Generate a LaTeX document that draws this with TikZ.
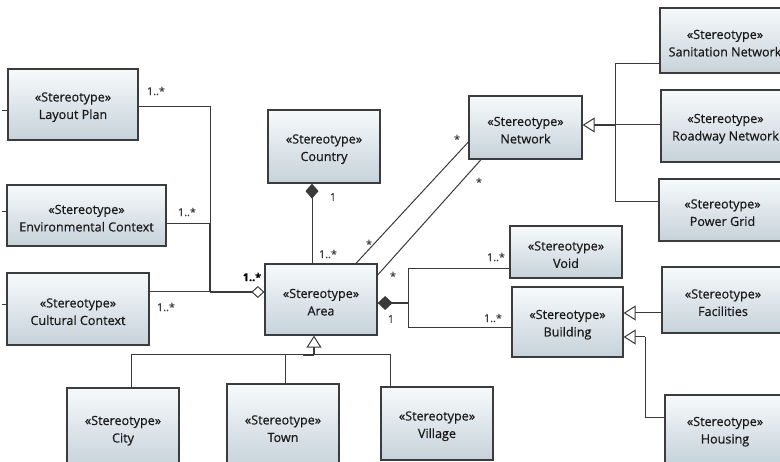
\documentclass[tikz,border=0pt]{standalone}
\usepackage{fontspec}
\setmainfont{Open Sans}
\usetikzlibrary{arrows.meta}
\definecolor{boxline}{HTML}{3C3C3C}
\definecolor{boxtop}{HTML}{F7FAFB}
\definecolor{boxbot}{HTML}{C6D2DA}
\definecolor{lineC}{HTML}{3A3A3A}
\definecolor{textC}{HTML}{1A1A1A}
\newfontfamily\clsfont{Open Sans}[FakeBold=0.5]
\newcommand\stlabel{\rule{0pt}{14.5pt}«Stereotype»}
\tikzset{
 cls/.style={draw=boxline, line width=1.3pt, top color=boxtop, bottom color=boxbot, align=center, text=textC, font=\clsfont\fontsize{12.6}{17.5}\selectfont, inner sep=0pt},
 ln/.style={draw=lineC, line width=1pt},
 bold/.style={draw=lineC, line width=2pt},
 gen/.style={-{Triangle[open, length=12pt, width=15pt, fill=white, line width=1pt]}},
 agg/.style={-{Diamond[open, length=13pt, width=12pt, fill=white, line width=1pt]}},
 comp/.style={-{Diamond[length=15pt, width=14pt]}},
 compstart/.style={{Diamond[length=15pt, width=13pt]}-},
 mult/.style={font=\clsfont\fontsize{10.8}{12}\selectfont, text=lineC, inner sep=0pt},
 multb/.style={font=\clsfont\fontsize{10.8}{12}\bfseries\selectfont, text=black, inner sep=0pt},
}
\begin{document}
\begin{tikzpicture}[x=1pt, y=-1pt]
\useasboundingbox (0,0) rectangle (780,462);
\clip (0,0) rectangle (780,462);
\fill[white] (0,0) rectangle (780,462);
% classes
\node[cls, minimum width=130pt, minimum height=71pt] (LP) at (73,104.5) {\stlabel\\Layout Plan};
\node[cls, minimum width=159pt, minimum height=61pt] (EC) at (86.5,215.5) {\stlabel\\Environmental Context};
\node[cls, minimum width=142pt, minimum height=72pt] (CC) at (78,309) {\stlabel\\Cultural Context};
\node[cls, minimum width=112pt, minimum height=73pt] (Country) at (324,146.5) {\stlabel\\Country};
\node[cls, minimum width=112pt, minimum height=71pt] (Area) at (321,299.5) {\stlabel\\Area};
\node[cls, minimum width=113pt, minimum height=63pt] (Network) at (525.5,127.5) {\stlabel\\Network};
\node[cls, minimum width=130pt, minimum height=65pt] (San) at (725,40.5) {\stlabel\\Sanitation Network};
\node[cls, minimum width=129pt, minimum height=72pt] (Road) at (725.5,126) {\stlabel\\Roadway Network};
\node[cls, minimum width=127pt, minimum height=62pt] (Power) at (722.5,210) {\stlabel\\Power Grid};
\node[cls, minimum width=112pt, minimum height=52pt] (Void) at (566,252) {\stlabel\\Void};
\node[cls, minimum width=111pt, minimum height=70pt] (Building) at (567.5,322) {\stlabel\\Building};
\node[cls, minimum width=122pt, minimum height=66pt] (Fac) at (723,300) {\stlabel\\Facilities};
\node[cls, minimum width=120pt, minimum height=68pt] (Housing) at (725,429) {\stlabel\\Housing};
\node[cls, minimum width=112pt, minimum height=80pt] (City) at (123,428) {\stlabel\\City};
\node[cls, minimum width=112pt, minimum height=84pt] (Town) at (283,426) {\stlabel\\Town};
\node[cls, minimum width=112pt, minimum height=73pt] (Village) at (437,423.5) {\stlabel\\Village};
% stubs on the left edge
\coordinate (s1) at (2,111);
\coordinate (s2) at (2,212);
\coordinate (s3) at (2,305);
\draw[ln] (s1) -- (s1 -| LP.west);
\draw[ln] (s2) -- (s2 -| EC.west);
\draw[ln] (s3) -- (s3 -| CC.west);
% aggregation to Area
\coordinate (aggJ) at (210,292);
\coordinate (aggM) at (210,224);
\draw[ln] ([yshift=-2.5]LP.east) -| (aggM);
\draw[ln] ([yshift=-8.5]EC.east) -- (aggM);
\draw[bold] (aggM) -- (aggJ);
\draw[ln] (CC.east |- aggJ) -- (aggJ);
\draw[bold, agg] (aggJ) -- ([yshift=7.5]Area.west);
% Country composition
\draw[ln, compstart] ([xshift=-12]Country.south) -- ([xshift=-9]Area.north);
% Network associations
\draw[ln] ([yshift=-14.5]Network.west) -- ([xshift=35]Area.north);
\draw[ln] ([xshift=-44.5]Network.south) -- ([yshift=24.5]Area.east);
% Network generalization
\coordinate (gN) at (615,125);
\draw[ln] ([yshift=-23.5]San.west) -| (gN);
\draw[ln] (Road.west |- gN) -- (gN);
\draw[ln] ([yshift=8]Power.west) -| (gN);
\draw[bold, gen] (gN) -- (Network.east |- gN);
% Void / Building composition
\coordinate (cJ) at (408,303);
\draw[ln] ([yshift=-17]Void.west) -| (cJ);
\draw[ln] ([yshift=-6]Building.west) -| (cJ);
\draw[bold, comp] (cJ) -- ([yshift=-3.5]Area.east);
% Building generalization
\draw[ln, gen] ([yshift=-13]Fac.west) -- ([yshift=-13]Fac.west -| Building.east);
\coordinate (hJ) at (645,337);
\draw[ln] ([yshift=11]Housing.west) -| (hJ);
\draw[ln, gen] (hJ) -- (hJ -| Building.east);
% Area generalization
\coordinate (gA) at (314,355);
\draw[ln] ([xshift=8]City.north) |- (gA);
\draw[ln] ([xshift=2]Town.north) |- (gA);
\draw[ln] ([xshift=-47]Village.north) |- (gA);
\draw[bold] (gA) -- ++(-11,0);
\draw[bold, gen] (gA) -- (Area.south -| gA);
% multiplicities
\node[mult] (m1) at (156,91) {1..*};
\node[mult] (m2) at (187,212) {1..*};
\node[mult] (m3) at (166,307) {1..*};
\node[multb] (m4) at (252,277) {1..*};
\node[mult] (m5) at (333,197) {1};
\node[mult] (m6) at (328,254) {1..*};
\node[mult] (m7) at (457,139) {*};
\node[mult] (m8) at (479,182) {*};
\node[mult] (m9) at (369,244) {*};
\node[mult] (m10) at (393,276) {*};
\node[mult] (m11) at (391,319) {1};
\node[mult] (m12) at (496,257) {1..*};
\node[mult] (m13) at (493,318) {1..*};
\end{tikzpicture}
\end{document}
